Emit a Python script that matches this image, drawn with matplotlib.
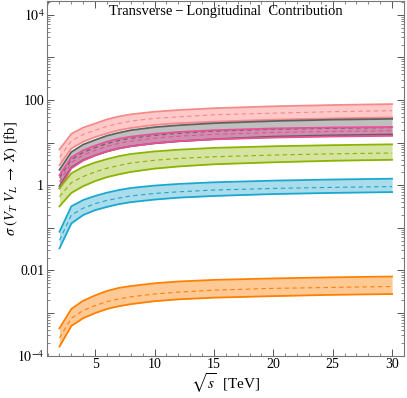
import matplotlib
matplotlib.use('Agg')

import matplotlib.pyplot as plt
import numpy as np
from matplotlib.ticker import FixedLocator, FuncFormatter, LogLocator, NullFormatter, MultipleLocator

plt.rcParams['font.family'] = ['Liberation Serif', 'DejaVu Serif']
plt.rcParams['mathtext.fontset'] = 'stix'

# sqrt(s) grid in TeV
sqrt_s = [2, 3, 4, 5, 6, 7, 8, 10, 12, 15, 20, 25, 30]

# cross sections in fb (upper / central / lower)
red_hi = [6.9, 16, 22.5, 28, 35, 41, 46, 53, 58, 64, 71, 76, 80]
red_mid = [4.5, 11, 15.5, 19.5, 24, 28, 32, 37, 40, 45, 49, 53, 56]
red_lo = [2.95, 7.3, 10.5, 13.5, 16.5, 19.5, 22, 26, 28.5, 31, 34.5, 37, 39]

gray_hi = [2.3, 6.0, 9.0, 11.5, 14.5, 17, 19.5, 23, 25.5, 28.5, 32, 34.5, 36]
gray_mid = [1.5, 4.0, 5.9, 7.6, 9.5, 11.1, 12.6, 14.8, 16.5, 18.5, 20.5, 21.6, 22.5]
gray_lo = [0.95, 2.6, 3.9, 5.0, 6.2, 7.3, 8.2, 9.6, 10.7, 12, 13.8, 14.8, 15.5]

mag_hi = [1.72, 4.5, 6.6, 8.5, 10.5, 12.3, 13.8, 16, 17.7, 19.5, 21.5, 22.6, 23.3]
mag_mid = [1.2, 3.4, 5.1, 6.6, 8.2, 9.6, 10.8, 12.7, 14.1, 15.6, 17.3, 18.3, 19]
mag_lo = [0.84, 2.5, 3.8, 5.0, 6.2, 7.3, 8.2, 9.7, 10.8, 11.9, 13.1, 13.9, 14.4]

green_hi = [0.85, 1.9, 2.7, 3.4, 4.1, 4.8, 5.4, 6.2, 6.8, 7.5, 8.2, 8.7, 9.1]
green_mid = [0.54, 1.15, 1.6, 2.05, 2.5, 2.9, 3.3, 3.85, 4.25, 4.65, 5.1, 5.45, 5.7]
green_lo = [0.32, 0.66, 0.95, 1.25, 1.55, 1.8, 2.05, 2.45, 2.75, 3.1, 3.45, 3.75, 3.95]

blue_hi = [0.081, 0.32, 0.45, 0.56, 0.67, 0.77, 0.86, 0.98, 1.07, 1.17, 1.28, 1.36, 1.42]
blue_mid = [0.051, 0.2, 0.29, 0.37, 0.44, 0.5, 0.56, 0.64, 0.7, 0.77, 0.84, 0.89, 0.93]
blue_lo = [0.033, 0.127, 0.2, 0.26, 0.31, 0.36, 0.4, 0.46, 0.51, 0.56, 0.62, 0.66, 0.69]

orange_hi = [4.4e-4, 1.25e-3, 1.95e-3, 2.6e-3, 3.3e-3, 3.9e-3, 4.3e-3, 5.0e-3, 5.5e-3, 6.0e-3, 6.5e-3, 6.9e-3, 7.2e-3]
orange_mid = [2.6e-4, 7.6e-4, 1.15e-3, 1.5e-3, 1.85e-3, 2.15e-3, 2.4e-3, 2.8e-3, 3.1e-3, 3.45e-3, 3.8e-3, 4.0e-3, 4.2e-3]
orange_lo = [1.64e-4, 5.0e-4, 7.6e-4, 1.0e-3, 1.25e-3, 1.45e-3, 1.62e-3, 1.9e-3, 2.1e-3, 2.3e-3, 2.5e-3, 2.68e-3, 2.8e-3]

bands = [
    (red_hi, red_mid, red_lo, '#f58a8a', '#ffc4c4', 0.9),
    (gray_hi, gray_mid, gray_lo, '#606060', '#b4b4b4', 0.85),
    (mag_hi, mag_mid, mag_lo, '#ec4f97', '#d9609c', 0.5),
    (green_hi, green_mid, green_lo, '#8bb400', '#d3e39c', 0.95),
    (blue_hi, blue_mid, blue_lo, '#1aa8cf', '#a6dbea', 0.95),
    (orange_hi, orange_mid, orange_lo, '#ff8000', '#ffc690', 0.95),
]

fig = plt.figure(figsize=(4.07, 3.98), dpi=100)
ax = fig.add_axes([0.1155, 0.1063, 0.877, 0.8912])

for hi, mid, lo, lc, fc, a in bands:
    ax.fill_between(sqrt_s, lo, hi, color=fc, alpha=a, lw=0)
    ax.plot(sqrt_s, hi, color=lc, lw=1.3)
    ax.plot(sqrt_s, lo, color=lc, lw=1.3)
    ax.plot(sqrt_s, mid, color=lc, lw=0.8, ls=(0, (4, 3)))

ax.set_yscale('log')
ax.set_xlim(0.95, 31)
ax.set_ylim(1e-4, 2.1e4)

ax.xaxis.set_major_locator(FixedLocator([5, 10, 15, 20, 25, 30]))
ax.xaxis.set_minor_locator(MultipleLocator(1))
ax.yaxis.set_major_locator(FixedLocator([10.0 ** k for k in range(-4, 5)]))
ax.yaxis.set_minor_locator(LogLocator(base=10, subs=np.arange(2, 10)))
ax.yaxis.set_minor_formatter(NullFormatter())

def ylab(v, pos):
    k = int(round(np.log10(v)))
    if k % 2:
        return ''
    if k == -4:
        return r'$10^{-4}$'
    if k == 4:
        return r'$10^{4}$'
    if k == -2:
        return '0.01'
    return '%g' % v

ax.yaxis.set_major_formatter(FuncFormatter(ylab))

ax.tick_params(which='both', direction='in', top=True, right=True, colors='#555555',
               labelcolor='black', labelsize=10)
ax.tick_params(which='major', length=5, width=0.7, pad=2)
ax.tick_params(which='minor', length=2.5, width=0.5)
for s in ax.spines.values():
    s.set_color('#777777')
    s.set_linewidth(0.8)

ax.set_xlabel(r'$\sqrt{s}$  [TeV]', fontsize=11)
ax.xaxis.set_label_coords(0.5, -0.045)
ax.set_ylabel(r'$\sigma\ (V_T\ V_L\ \rightarrow\ X)$ [fb]', fontsize=10.5)
ax.yaxis.set_label_coords(-0.075, 0.5)
ax.text(0.5, 0.988, u'Transverse\u2009\u2212\u2009Longitudinal  Contribution', transform=ax.transAxes,
        ha='center', va='top', fontsize=10.5)

fig.savefig('out.png', dpi=100)
